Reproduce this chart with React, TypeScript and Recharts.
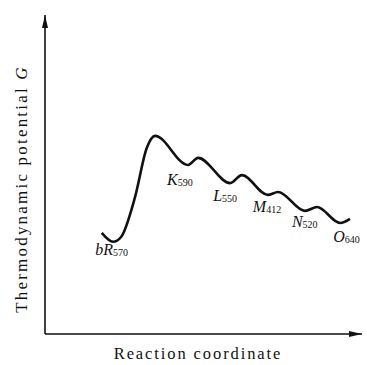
import React from 'react';
import { LineChart, Line, XAxis, YAxis, LabelList, Label } from 'recharts';

// Reaction coordinate (arbitrary units, 0–100) and thermodynamic potential G (arbitrary units, 0–100)
const coordinate = [17.9, 21.5, 24.0, 28.4, 32.1, 34.7, 45.1, 48.3, 58.4, 62.1, 70.3, 73.5, 82.0, 85.8, 93.1, 96.2];
const potential = [31.7, 28.9, 30.4, 42.9, 58.3, 62.1, 53.0, 55.2, 47.3, 49.8, 43.6, 44.5, 38.6, 39.8, 34.8, 36.1];

// Photocycle intermediates at the potential minima
const intermediates = ['bR', 'K', 'L', 'M', 'N', 'O'];
const wavelengths = ['570', '590', '550', '412', '520', '640'];
const intermediateIndex = [1, 6, 8, 10, 12, 14];

const xLabel = 'Reaction coordinate';
const yLabel = 'Thermodynamic potential ';
const yLabelSymbol = 'G';

const data = coordinate.map((x, i) => {
  const k = intermediateIndex.indexOf(i);
  return {
    x,
    g: potential[i],
    name: k >= 0 ? intermediates[k] : undefined,
    sub: k >= 0 ? wavelengths[k] : undefined,
  };
});

const FONT = '"Liberation Serif", "DejaVu Serif", serif';

const labelOffsets: Record<string, [number, number]> = {
  bR: [-18, 13],
  K: [-21, 20],
  L: [-17, 18],
  M: [-15, 17],
  N: [-13, 16],
  O: [-7, 19],
};

const StateLabel = (props: any) => {
  const { x, y, index } = props;
  const d = data[index];
  if (!d || !d.name) return null;
  const [dx, dy] = labelOffsets[d.name] || [-15, 18];
  return (
    <text x={x + dx} y={y + dy} fontFamily={FONT} fontSize={16} fontStyle="italic" fill="#111">
      {d.name}
      <tspan fontStyle="normal" fontSize={10} dy={1}>{d.sub}</tspan>
    </text>
  );
};

const YTitle = (props: any) => {
  const vb = props.viewBox || {};
  const cx = (vb.x || 0) + 21;
  const cy = 189;
  return (
    <text
      x={cx}
      y={cy}
      transform={`rotate(-90 ${cx} ${cy})`}
      textAnchor="middle"
      dominantBaseline="central"
      fontFamily={FONT}
      fontSize={17}
      letterSpacing={2.2}
      fill="#111"
    >
      {yLabel}
      <tspan fontStyle="italic">{yLabelSymbol}</tspan>
    </text>
  );
};

const XTitle = () => {
  return (
    <text
      x={198}
      y={359}
      textAnchor="middle"
      fontFamily={FONT}
      fontSize={16.5}
      letterSpacing={1.9}
      fill="#111"
    >
      {xLabel}
    </text>
  );
};

export default function App() {
  return (
    <div style={{ position: 'absolute', left: 0, top: 0, background: '#fff' }}>
      <svg width={0} height={0} style={{ position: 'absolute' }}>
        <defs>
          <marker
            id="arrowHead"
            viewBox="0 0 13 6"
            markerWidth={13}
            markerHeight={6}
            refX={13}
            refY={3}
            orient="auto-start-reverse"
            markerUnits="userSpaceOnUse"
          >
            <path d="M0,0 L13,3 L0,6 Z" fill="#111" />
          </marker>
        </defs>
      </svg>
      <LineChart width={367} height={365} data={data} margin={{ top: 15, right: 5, bottom: 0, left: 0 }}>
        <XAxis
          type="number"
          dataKey="x"
          domain={[0, 100]}
          height={31}
          tick={false}
          tickLine={false}
          axisLine={{ stroke: '#111', strokeWidth: 1.6, markerEnd: 'url(#arrowHead)' } as any}
        >
          <Label content={XTitle} />
        </XAxis>
        <YAxis
          type="number"
          domain={[0, 100]}
          width={45}
          tick={false}
          tickLine={false}
          axisLine={{ stroke: '#111', strokeWidth: 1.6, markerStart: 'url(#arrowHead)' } as any}
        >
          <Label content={YTitle} />
        </YAxis>
        <Line
          type="monotoneX"
          dataKey="g"
          stroke="#111"
          strokeWidth={2.6}
          dot={false}
          isAnimationActive={false}
        >
          <LabelList dataKey="name" content={StateLabel} />
        </Line>
      </LineChart>
    </div>
  );
}
